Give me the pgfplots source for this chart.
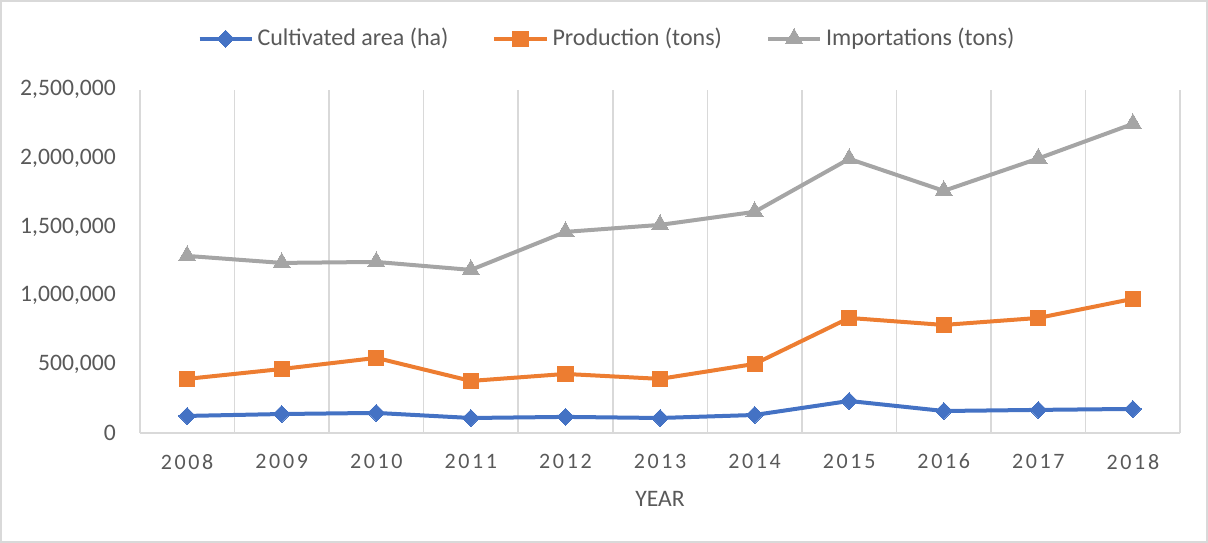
\documentclass[border=0pt]{standalone}
\usepackage{pgfplots}
\pgfplotsset{compat=1.18}
\usepackage{fontspec}
\setmainfont{Carlito}
\definecolor{cblue}{HTML}{4472C4}
\definecolor{corange}{HTML}{ED7D31}
\definecolor{cgray}{HTML}{A5A5A5}
\definecolor{ctext}{HTML}{595959}
\definecolor{cgrid}{HTML}{D9D9D9}
\begin{document}
\begin{tikzpicture}[x=1pt,y=1pt]
\draw[cgrid,line width=0.8pt] (0.5,0.5) rectangle (603.5,271);
\begin{axis}[
  at={(70pt,55pt)}, anchor=south west,
  scale only axis, width=520pt, height=171.5pt,
  xmin=-0.5, xmax=10.5, ymin=0, ymax=2500000,
  xtick={0,...,10},
  xticklabels={2008,2009,2010,2011,2012,2013,2014,2015,2016,2017,2018},
  minor xtick={-0.5,0.5,...,10.5},
  minor x grid style={cgrid,line width=0.8pt},
  xminorgrids=true,
  ytick={0,500000,1000000,1500000,2000000,2500000},
  scaled y ticks=false,
  /pgf/number format/fixed,
  /pgf/number format/1000 sep={,},
  /pgf/number format/assume math mode=true,
  tick label style={font=\fontsize{11.8}{13}\selectfont, text=ctext},
  xticklabel style={font=\fontsize{11}{13}\selectfont\addfontfeature{LetterSpace=12}, yshift=-7pt},
  yticklabel style={xshift=-8.5pt},
  major tick length=0pt, minor tick length=0pt,
  axis x line*=bottom, axis y line*=left,
  x axis line style={cgrid,line width=0.8pt,-},
  y axis line style={draw=none},
  xlabel={YEAR}, xlabel style={font=\fontsize{11.8}{13}\selectfont, text=ctext, yshift=-4pt},
  legend style={at={(0.45,1.149)}, anchor=center, draw=none, legend columns=-1,
    font=\fontsize{12}{13}\selectfont, text=ctext,
    /tikz/every even column/.append style={column sep=20pt}},
  legend image code/.code={\draw[mark repeat=2,mark phase=2] plot coordinates {(0pt,0pt)(13pt,0pt)(26pt,0pt)};},
  every axis plot/.append style={line width=2pt},
  clip=false,
]
\addplot[cblue, mark=square*, mark size=3pt, mark options={line width=0pt, rotate=45}] coordinates {
(0,124000)(1,138000)(2,146000)(3,109000)(4,117000)(5,109000)(6,131000)(7,233000)(8,160000)(9,168000)(10,175000)};
\addlegendentry{Cultivated area (ha)}
\addplot[corange, mark=square*, mark size=3.8pt, mark options={line width=0pt}] coordinates {
(0,394000)(1,466000)(2,547000)(3,379000)(4,430000)(5,394000)(6,503000)(7,838000)(8,787000)(9,838000)(10,977000)};
\addlegendentry{Production (tons)}
\addplot[cgray, mark=triangle*, mark size=5pt, mark options={line width=0pt}] coordinates {
(0,1290000)(1,1239000)(2,1246000)(3,1188000)(4,1465000)(5,1516000)(6,1611000)(7,1997000)(8,1764000)(9,2000000)(10,2252000)};
\addlegendentry{Importations (tons)}
\end{axis}
\end{tikzpicture}
\end{document}
